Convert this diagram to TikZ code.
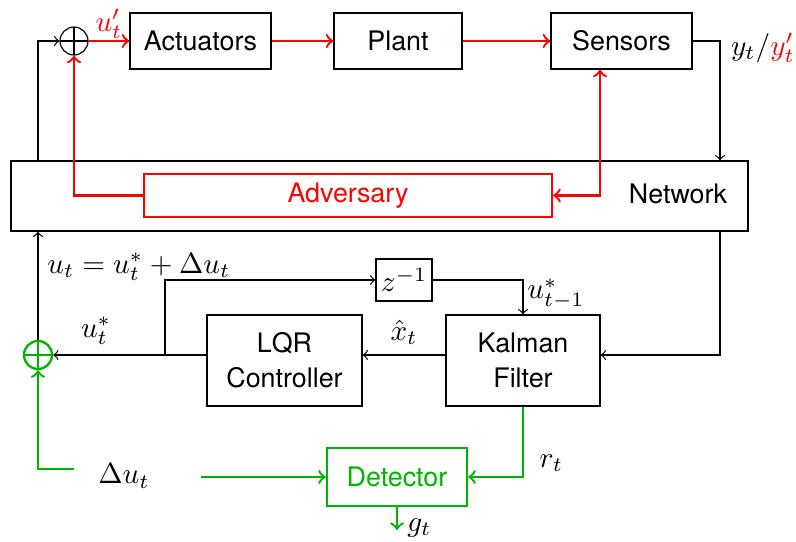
\documentclass[tikz,border=0pt]{standalone}
\usepackage{fontspec}
\setsansfont{TeX Gyre Heros}[Scale=0.92]
\usetikzlibrary{calc}
\def\pxu{0.3425pt}
\definecolor{detgreen}{rgb}{0,0.7,0}
\tikzset{
  blockbox/.style={draw, inner sep=0pt, align=center},
  sumnode/.style={circle, draw, minimum size=28*\pxu, inner sep=0pt,
    path picture={\draw (path picture bounding box.north) -- (path picture bounding box.south)
      (path picture bounding box.west) -- (path picture bounding box.east);}},
  attack/.style={red, thick},
  detect/.style={detgreen, thick}
}

\begin{document}
\begin{tikzpicture}[x=\pxu, y=-\pxu, font=\sffamily, >=to]
	\useasboundingbox (0,0) rectangle (796,541);

	%%%%% plant side %%%%%
	\node[sumnode] (suma) at (74,41) {};
	\node[blockbox, minimum width=141*\pxu, minimum height=56*\pxu] (act) at (200.5,41) {Actuators};
	\node[blockbox, minimum width=128*\pxu, minimum height=56*\pxu] (plant) at (398,41) {Plant};
	\node[blockbox, minimum width=141*\pxu, minimum height=56*\pxu] (sens) at (621.5,41) {Sensors};
	\node (ylab) at (763,48) {$y_t/{\color{red}y'_t}$};

	%%%%% network %%%%%
	\node[blockbox, minimum width=737*\pxu, minimum height=70*\pxu] (net) at (379.5,196) {};
	\node (nettxt) at (678,194) {Network};
	\node[blockbox, attack, minimum width=408*\pxu, minimum height=43*\pxu] (adv) at (348,195.5) {Adversary};
	\coordinate (nr) at (720,196);
	\coordinate (sx) at (600,196);

	%%%%% controller side %%%%%
	\node[blockbox, minimum width=155*\pxu, minimum height=91*\pxu] (lqr) at (284.5,360.5) {LQR\\Controller};
	\node[blockbox, minimum width=154*\pxu, minimum height=91*\pxu] (kal) at (523,360.5) {Kalman\\Filter};
	\node[blockbox, minimum width=56*\pxu, minimum height=42*\pxu] (delay) at (404,280) {$z^{-1}$};
	\node[sumnode, detect] (sumb) at (38,355) {};
	\coordinate (br) at (165,355);

	%%%%% detector %%%%%
	\node[blockbox, detect, minimum width=140*\pxu, minimum height=58*\pxu] (det) at (397,477) {Detector};
	\node (du) at (124,476) {$\Delta u_t$};
	\coordinate (dul) at (74,469);
	\coordinate (dur) at (201,477);
	\coordinate (gout) at (397,530);

	%%%%% connectors %%%%%
	\draw[->] (net.north -| sumb) |- (suma);
	\draw[attack, ->] (adv.west) -| (suma);
	\draw[attack, ->] (suma) -- node[above, inner sep=0.5pt] {$u'_t$} (act);
	\draw[attack, ->] (act) -- (plant);
	\draw[attack, ->] (plant) -- (sens);
	\draw[->] (sens) -| (nr |- net.north);
	\draw[attack, <->] (sens.south -| sx) |- (adv.east);

	\draw[->] (nr |- net.south) |- (kal.east |- sumb);
	\draw[->] (kal.west |- sumb) -- node[above] {$\hat{x}_t$} (lqr.east |- sumb);
	\draw[->] (lqr.west |- sumb) -- node[above, pos=0.72] {$u^*_t$} (sumb);
	\draw[->] (br) |- (delay);
	\draw[->] (delay) -| node[pos=0.7, right, xshift=-2pt] {$u^*_{t-1}$} (kal);
	\draw[->] (sumb) -- (sumb |- net.south);
	\node[anchor=west] (ulab) at (37,267) {$u_t = u^*_t + \Delta u_t$};

	\draw[detect, ->] (dul) -| (sumb);
	\draw[detect, ->] (dur) -- (det);
	\draw[detect, ->] (kal.south) |- node[pos=0.4, right, text=black, xshift=2pt] {$r_t$} (det.east);
	\draw[detect, ->] (det.south) -- (gout);
	\node[anchor=west] (glab) at ([yshift=2*\pxu]gout) {$g_t$};
\end{tikzpicture}
\end{document}
